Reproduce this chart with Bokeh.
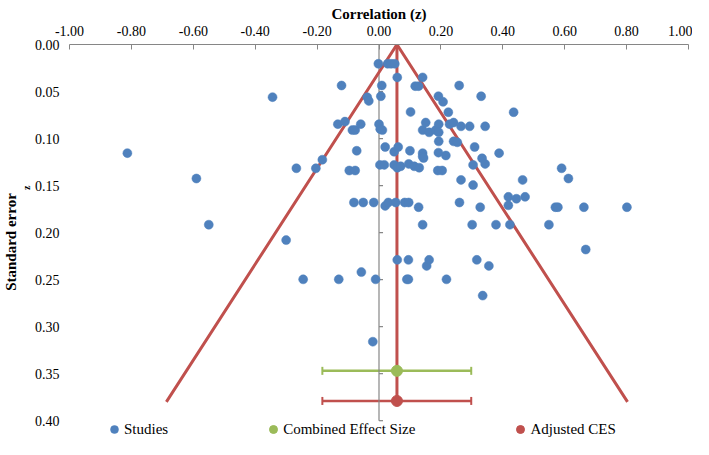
from bokeh.plotting import figure
from bokeh.models import (Range1d, Whisker, ColumnDataSource, Legend, LegendItem,
                          Title, FixedTicker, TeeHead, NumeralTickFormatter)
from bokeh.embed import file_html
from bokeh.resources import INLINE

# ---------------- data ----------------
study_z = [-0.813, -0.590, -0.550, -0.344, -0.300, -0.267, -0.245, -0.204, -0.183, -0.133,
           -0.130, -0.121, -0.110, -0.096, -0.086, -0.081, -0.077, -0.077, -0.072, -0.059,
           -0.057, -0.051, -0.038, -0.033, -0.020, -0.017, -0.011, -0.002, 0.000, 0.004,
           0.006, 0.009, 0.011, 0.003, 0.017, 0.020, 0.020, 0.028, 0.030, 0.039,
           0.049, 0.049, 0.051, 0.054, 0.059, 0.059, 0.062, 0.059, 0.070, 0.083,
           0.090, 0.095, 0.095, 0.096, 0.096, 0.100, 0.102, 0.114, 0.117, 0.128,
           0.128, 0.130, 0.141, 0.141, 0.141, 0.141, 0.144, 0.141, 0.151, 0.154,
           0.162, 0.162, 0.183, 0.190, 0.192, 0.192, 0.193, 0.193, 0.193, 0.204,
           0.207, 0.216, 0.218, 0.224, 0.228, 0.241, 0.241, 0.253, 0.259, 0.260,
           0.265, 0.265, 0.293, 0.301, 0.304, 0.304, 0.309, 0.316, 0.327, 0.330,
           0.333, 0.335, 0.343, 0.343, 0.355, 0.378, 0.388, 0.418, 0.418, 0.423,
           0.435, 0.444, 0.464, 0.472, 0.549, 0.570, 0.578, 0.590, 0.612, 0.662,
           0.668, 0.801]
study_se = [0.1155, 0.1425, 0.1916, 0.056, 0.208, 0.1316, 0.2497, 0.1316, 0.1225, 0.0847,
            0.2497, 0.0436, 0.082, 0.134, 0.091, 0.168, 0.091, 0.134, 0.113, 0.0847,
            0.242, 0.168, 0.056, 0.060, 0.316, 0.168, 0.2497, 0.0205, 0.0847, 0.090,
            0.055, 0.0436, 0.091, 0.128, 0.128, 0.109, 0.1716, 0.0205, 0.168, 0.0205,
            0.114, 0.128, 0.0205, 0.168, 0.035, 0.131, 0.109, 0.229, 0.1295, 0.168,
            0.2497, 0.2497, 0.229, 0.127, 0.168, 0.113, 0.0717, 0.1295, 0.0443, 0.0443,
            0.173, 0.131, 0.035, 0.091, 0.1155, 0.119, 0.1207, 0.1916, 0.083, 0.2354,
            0.0934, 0.229, 0.091, 0.134, 0.055, 0.115, 0.0847, 0.0934, 0.103, 0.134,
            0.061, 0.118, 0.2497, 0.072, 0.0847, 0.083, 0.103, 0.104, 0.0436, 0.168,
            0.087, 0.144, 0.087, 0.1916, 0.128, 0.1495, 0.109, 0.229, 0.173, 0.055,
            0.121, 0.267, 0.087, 0.127, 0.2354, 0.1916, 0.1155, 0.162, 0.171, 0.1916,
            0.072, 0.164, 0.144, 0.162, 0.1916, 0.173, 0.173, 0.1316, 0.1425, 0.173,
            0.218, 0.173]

ces_z = [0.058];  ces_se = [0.347];  ces_lo = [-0.183]; ces_hi = [0.298]
adj_z = [0.058];  adj_se = [0.379];  adj_lo = [-0.183]; adj_hi = [0.298]

funnel_z = [-0.687, 0.058, 0.803]
funnel_se = [0.38, 0.0, 0.38]
center_z = [0.058, 0.058]
center_se = [0.0, 0.38]

x_ticks = [-1.0, -0.8, -0.6, -0.4, -0.2, 0.0, 0.2, 0.4, 0.6, 0.8, 1.0]
y_ticks = [0.0, 0.05, 0.10, 0.15, 0.20, 0.25, 0.30, 0.35, 0.40]

legend_labels = ["Studies", "Combined Effect Size", "Adjusted CES"]

BLUE = "#4F81BD"
GREEN = "#9BBB59"
RED = "#C0504D"
GRAY = "#868686"
FONT = "Liberation Serif"

# the plotting frame reaches the bottom of the canvas so the legend can sit inside it
Y_VIEW_END = 0.42

p = figure(frame_width=619, frame_height=395,
           x_range=Range1d(x_ticks[0], x_ticks[-1]),
           y_range=Range1d(Y_VIEW_END, y_ticks[0]),
           output_backend="svg", toolbar_location=None, x_axis_location="above",
           min_border_left=64, min_border_right=4, min_border_top=44, min_border_bottom=0)
p.outline_line_color = None
p.grid.visible = False
p.background_fill_color = "white"

# top x axis
xa = p.xaxis[0]
xa.ticker = FixedTicker(ticks=x_ticks)
xa.formatter = NumeralTickFormatter(format="0.00")
xa.axis_line_color = GRAY
xa.major_tick_line_color = GRAY
xa.major_tick_in = 5
xa.major_tick_out = 0
xa.minor_tick_line_color = None
xa.major_label_text_font = FONT
xa.major_label_text_font_size = "14px"
xa.major_label_text_color = "black"
xa.major_label_standoff = 9
xa.axis_label = "Correlation (z)"
xa.axis_label_text_font = FONT
xa.axis_label_text_font_size = "15px"
xa.axis_label_text_font_style = "bold"
xa.axis_label_text_color = "black"
xa.axis_label_standoff = 1

# left y axis: labels only
ya = p.yaxis[0]
ya.ticker = FixedTicker(ticks=y_ticks)
ya.formatter = NumeralTickFormatter(format="0.00")
ya.axis_line_color = None
ya.major_tick_line_color = None
ya.major_tick_in = 0
ya.major_tick_out = 0
ya.minor_tick_line_color = None
ya.minor_tick_in = 0
ya.minor_tick_out = 0
ya.major_label_text_font = FONT
ya.major_label_text_font_size = "14px"
ya.major_label_text_color = "black"
ya.major_label_standoff = 10

# y axis title "Standard error" with subscript z
p.add_layout(Title(text="z", align="right", offset=141, standoff=0,
                   text_font=FONT, text_font_size="10px", text_font_style="bold",
                   text_color="black"), "left")
p.add_layout(Title(text="Standard error", align="center", standoff=0,
                   text_font=FONT, text_font_size="15px", text_font_style="bold",
                   text_color="black"), "left")

# vertical axis line at z = 0 with tick marks
p.segment(x0=[0], y0=[y_ticks[0]], x1=[0], y1=[y_ticks[-1]], line_color=GRAY, line_width=1.2)
p.segment(x0=[0] * len(y_ticks), y0=y_ticks, x1=[0.013] * len(y_ticks), y1=y_ticks,
          line_color=GRAY, line_width=1.2)

# funnel and centre line
p.line(funnel_z, funnel_se, line_color=RED, line_width=3)
p.line(center_z, center_se, line_color=RED, line_width=3)

# studies
r_st = p.scatter(study_z, study_se, size=9, fill_color=BLUE, line_color=BLUE, line_width=0.5)

# combined effect size with CI
src_c = ColumnDataSource(dict(z=ces_z, se=ces_se, lo=ces_lo, hi=ces_hi))
p.add_layout(Whisker(source=src_c, base="se", lower="lo", upper="hi", dimension="width",
                     line_color=GREEN, line_width=2.5,
                     upper_head=TeeHead(size=8, line_color=GREEN, line_width=2),
                     lower_head=TeeHead(size=8, line_color=GREEN, line_width=2)))
r_c = p.scatter("z", "se", source=src_c, size=11, fill_color=GREEN, line_color=GREEN)

src_a = ColumnDataSource(dict(z=adj_z, se=adj_se, lo=adj_lo, hi=adj_hi))
p.add_layout(Whisker(source=src_a, base="se", lower="lo", upper="hi", dimension="width",
                     line_color=RED, line_width=2.5,
                     upper_head=TeeHead(size=8, line_color=RED, line_width=2),
                     lower_head=TeeHead(size=8, line_color=RED, line_width=2)))
r_a = p.scatter("z", "se", source=src_a, size=11, fill_color=RED, line_color=RED)

legend = Legend(items=[LegendItem(label=legend_labels[0], renderers=[r_st]),
                       LegendItem(label=legend_labels[1], renderers=[r_c]),
                       LegendItem(label=legend_labels[2], renderers=[r_a])],
                orientation="horizontal", location=(35, 0), spacing=95, padding=0,
                margin=0, border_line_color=None, background_fill_alpha=0,
                label_text_font=FONT, label_text_font_size="15px", label_text_color="black",
                glyph_width=20, glyph_height=20, label_standoff=0, label_height=14)
p.add_layout(legend)

open("out.html", "w").write(file_html(p, INLINE))
